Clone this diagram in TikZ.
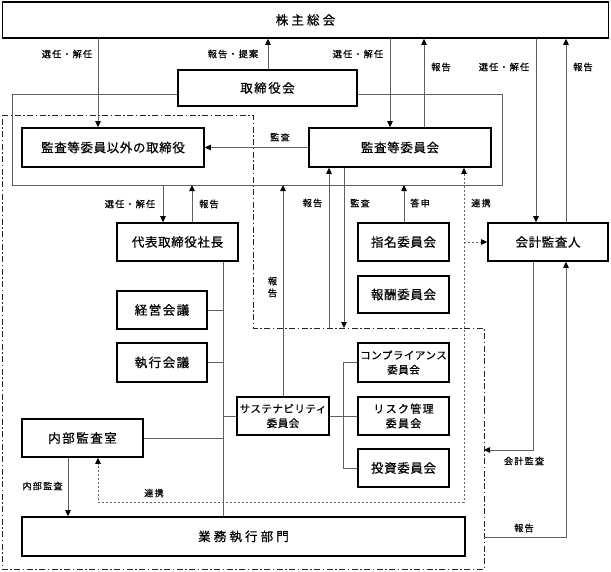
\documentclass[tikz,border=0pt]{standalone}
\usepackage{fontspec}
\setmainfont{Noto Sans CJK JP}
\newfontfamily\jpbox[LetterSpace=5,FakeBold=0.6]{Noto Sans CJK JP}
\newfontfamily\jpmid[LetterSpace=12,FakeBold=0.6]{Noto Sans CJK JP}
\newfontfamily\jpwide[LetterSpace=25,FakeBold=0.6]{Noto Sans CJK JP}
\newfontfamily\jplab[LetterSpace=12,FakeBold=0.4]{Noto Sans CJK JP}
\usetikzlibrary{arrows.meta}
\tikzset{
  box/.style={draw=black, line width=1.6pt, fill=white, inner sep=0pt, align=center,
              font=\jpbox\fontsize{12.5}{15}\selectfont},
  midbox/.style={box, font=\jpmid\fontsize{12.5}{15}\selectfont},
  widebox/.style={box, font=\jpwide\fontsize{12.5}{15}\selectfont},
  smallbox/.style={box, font=\jpbox\fontsize{10.5}{14.5}\selectfont},
  conn/.style={draw=black!62, line width=0.8pt},
  arr/.style={conn, -{Triangle[length=6pt,width=5.5pt,color=black]}},
  dashdot/.style={draw=black!85, line width=1pt, dash pattern=on 6pt off 2.5pt on 1.5pt off 2.5pt},
  dotline/.style={draw=black!60, line width=0.9pt, dash pattern=on 2pt off 2pt},
  lab/.style={inner sep=0pt, font=\jplab\fontsize{9.2}{11}\selectfont}
}
\begin{document}
\begin{tikzpicture}[x=1pt,y=-1pt]
\useasboundingbox (0,0) rectangle (611,571);

% boxes
\node[widebox, minimum width=606pt, minimum height=36pt] (sh) at (305.5,20) {株主総会};
\node[midbox, minimum width=179pt, minimum height=36pt] (tb) at (267.5,88) {取締役会};
\node[box, minimum width=182pt, minimum height=39pt] (ot) at (113,147.5) {監査等委員以外の取締役};
\node[box, minimum width=182pt, minimum height=39pt] (ac) at (400,147.5) {監査等委員会};
\node[box, minimum width=121pt, minimum height=38pt] (ceo) at (177.5,242) {代表取締役社長};
\node[midbox, minimum width=90pt, minimum height=38pt] (km) at (162,310) {経営会議};
\node[midbox, minimum width=90pt, minimum height=39pt] (sk) at (162,362.5) {執行会議};
\node[midbox, minimum width=121pt, minimum height=38pt] (ia) at (82.5,438) {内部監査室};
\node[widebox, minimum width=443pt, minimum height=39pt] (bu) at (243.5,536.5) {業務執行部門};
\node[smallbox, minimum width=92pt, minimum height=38pt] (su) at (283,416) {サステナビリティ\\委員会};
\node[smallbox, minimum width=91pt, minimum height=39pt] (co) at (403.5,362.5) {コンプライアンス\\委員会};
\node[box, font=\jpmid\fontsize{11}{14.5}\selectfont, minimum width=91pt, minimum height=38pt] (ri) at (403.5,416) {リスク管理\\委員会};
\node[box, minimum width=91pt, minimum height=38pt] (inv) at (403.5,468) {投資委員会};
\node[box, minimum width=91pt, minimum height=38pt] (nm) at (403.5,242) {指名委員会};
\node[box, minimum width=91pt, minimum height=37pt] (rw) at (403.5,294.5) {報酬委員会};
\node[box, minimum width=120pt, minimum height=38pt] (au) at (548,242) {会計監査人};

% helper coordinates
\coordinate (fbl) at (163,185);
\coordinate (fbr) at (192,185);
\coordinate (fsu) at (283,185);
\coordinate (fnm) at (404,185);
\coordinate (ddrep) at (329,328);
\coordinate (ddaud) at (344,328);
\coordinate (dotc) at (464,502);
\coordinate (dotl) at (98,502);
\coordinate (ddca) at (484,450);
\coordinate (ddrp) at (484,537);

% dash-dot region
\draw[dashdot] (2,115) -- (253,115) -- (253,328) -- (484,328) -- (484,569) -- (2,569) -- cycle;

% board frame
\draw[conn] (tb.west |- 0,94) -- (12,94) -- (12,185) -- (502,185) -- (502,94) -- (tb.east |- 0,94);

% shareholders' meeting arrows
\draw[arr] (98,0 |- sh.south) -- (98,0 |- ot.north);
\draw[arr] (268,0 |- tb.north) -- (268,0 |- sh.south);
\draw[arr] (390,0 |- sh.south) -- (390,0 |- ac.north);
\draw[arr] (424,0 |- ac.north) -- (424,0 |- sh.south);
\draw[arr] (536,0 |- sh.south) -- (536,0 |- au.north);
\draw[arr] (566,0 |- au.north) -- (566,0 |- sh.south);
\node[lab] (l1) at (67,54) {選任・解任};
\node[lab] (l2) at (233,54) {報告・提案};
\node[lab] (l3) at (358,54) {選任・解任};
\node[lab] (l4) at (441,67) {報告};
\node[lab] (l5) at (504,67) {選任・解任};
\node[lab] (l6) at (583,67) {報告};

% audit arrow
\draw[arr] (ac.west) -- (ot.east);
\node[lab] (l7) at (280,137) {監査};

% CEO
\draw[arr] (fbl) -- (163,0 |- ceo.north);
\draw[arr] (192,0 |- ceo.north) -- (fbr);
\node[lab] (l8) at (130,204) {選任・解任};
\node[lab] (l9) at (209,204) {報告};

% executive spine
\draw[conn] (223,0 |- ceo.south) -- (223,0 |- bu.north);
\draw[conn] (km.east) -- (223,0 |- km.east);
\draw[conn] (sk.east) -- (223,0 |- sk.east);
\draw[conn] (su.west) -- (223,0 |- su.west);
\draw[conn] (ia.east) -- (223,0 |- ia.east);

% sustainability
\draw[arr] (283,0 |- su.north) -- (fsu);
\node[lab] (l10a) at (272.5,281) {報};
\node[lab] (l10b) at (272.5,293) {告};
\draw[conn] (su.east) -- (ri.west);
\draw[conn] (co.west) -- (343,0 |- co.west) -- (343,0 |- inv.west) -- (inv.west);

% internal audit
\draw[arr] (68,0 |- ia.south) -- (68,0 |- bu.north);
\node[lab] (l11) at (42.5,486) {内部監査};

% nomination
\draw[arr] (404,0 |- nm.north) -- (fnm);
\node[lab] (l12) at (420,203) {答申};

% audit committee to execution
\draw[arr] (ddrep) -- (329,0 |- ac.south);
\draw[arr] (344,0 |- ac.south) -- (ddaud);
\node[lab] (l13) at (312.5,203) {報告};
\node[lab] (l14) at (360,203) {監査};

% cooperation (dotted)
\draw[dotline, {Triangle[length=6pt,width=5.5pt,color=black]}-{Triangle[length=6pt,width=5.5pt,color=black]}]
  (464,0 |- ac.south) -- (dotc) -- (dotl) -- (98,0 |- ia.south);
\draw[dotline, -{Triangle[length=6pt,width=5.5pt,color=black]}] (464,0 |- au.west) -- (au.west);
\node[lab] (l15) at (481,203) {連携};
\node[lab] (l16) at (154,493) {連携};

% accounting auditor
\draw[arr] (533,0 |- au.south) -- (533,450) -- (ddca);
\draw[arr] (ddrp) -- (566,537) -- (566,0 |- au.south);
\node[lab] (l17) at (524,461) {会計監査};
\node[lab] (l18) at (524,528) {報告};
\end{tikzpicture}
\end{document}
